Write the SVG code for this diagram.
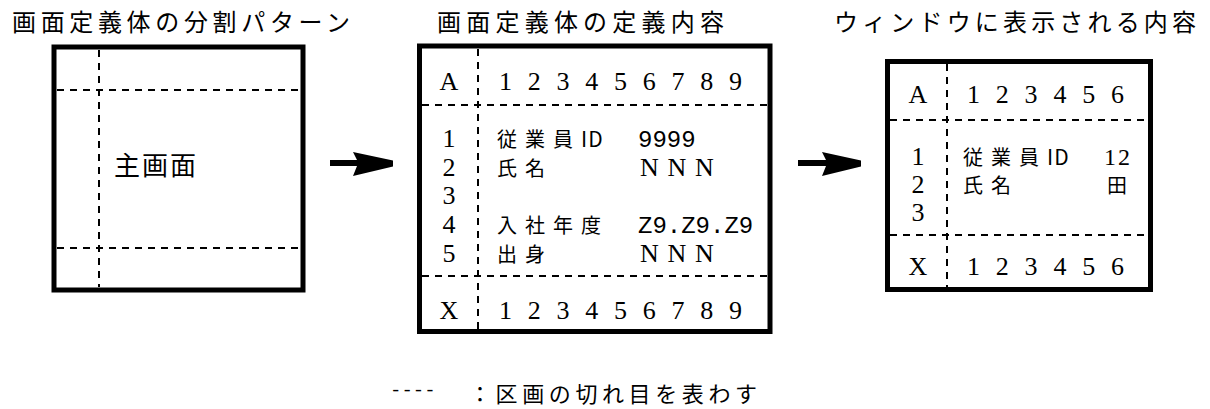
<svg xmlns="http://www.w3.org/2000/svg" width="1210" height="409" viewBox="0 0 1210 409">
<style>
.box{fill:#fff;stroke:#000;stroke-width:5}
.dash{fill:none;stroke:#000;stroke-width:2;stroke-dasharray:7 6}
.title{font-family:"Noto Sans CJK JP",sans-serif;font-size:24px;fill:#000}
.jp{font-family:"Noto Sans CJK JP",sans-serif;font-size:20px;letter-spacing:8px;fill:#000}
.mono{font-family:"Liberation Mono",monospace;font-size:24px;letter-spacing:0;fill:#000}
.ser{font-family:"Liberation Serif",serif;font-size:26px;fill:#000}
.mid{text-anchor:middle}
.nnn{font-family:"Liberation Serif",serif;font-size:26px;letter-spacing:8.7px;fill:#000}
.arrow{fill:#000;stroke:none}
</style>
<rect width="1210" height="409" fill="#fff"/>
<g id="node1">
<text class="title" x="12" y="31" textLength="338" lengthAdjust="spacing">画面定義体の分割パターン</text>
<rect class="box" x="54" y="47" width="249" height="243"/>
<line class="dash" x1="99" y1="50" x2="99" y2="287"/>
<line class="dash" x1="57" y1="90" x2="300" y2="90"/>
<line class="dash" x1="57" y1="248" x2="300" y2="248"/>
<text x="114" y="175" style="font-family:'Noto Sans CJK JP',sans-serif;font-size:26px;letter-spacing:2px">主画面</text>
</g>
<g id="node2">
<text class="title" x="437" y="31" textLength="287" lengthAdjust="spacing">画面定義体の定義内容</text>
<rect class="box" x="419.5" y="46" width="350.5" height="285.5"/>
<line class="dash" x1="478" y1="49" x2="478" y2="329"/>
<line class="dash" x1="422" y1="105" x2="767" y2="105"/>
<line class="dash" x1="422" y1="276" x2="767" y2="276"/>
<text class="ser mid" x="449" y="90">A</text>
<text class="ser" x="499" y="90" textLength="243" lengthAdjust="spacing">1 2 3 4 5 6 7 8 9</text>
<text class="ser mid" x="449" y="147">1</text>
<text class="ser mid" x="449" y="175.5">2</text>
<text class="ser mid" x="449" y="204">3</text>
<text class="ser mid" x="449" y="233">4</text>
<text class="ser mid" x="449" y="261.5">5</text>
<text class="jp" x="497" y="147">従業員<tspan style="letter-spacing:1px;font-size:21px">ID</tspan></text>
<text class="mono" x="638" y="147">9999</text>
<text class="jp" x="497" y="175.5">氏名</text>
<text class="nnn" x="640" y="175.5">NNN</text>
<text class="jp" x="497" y="233">入社年度</text>
<text class="mono" x="638" y="233">Z9.Z9.Z9</text>
<text class="jp" x="497" y="261.5">出身</text>
<text class="nnn" x="640" y="261.5">NNN</text>
<text class="ser mid" x="449" y="319">X</text>
<text class="ser" x="499" y="319" textLength="243" lengthAdjust="spacing">1 2 3 4 5 6 7 8 9</text>
</g>
<g id="node3">
<text class="title" x="834" y="31" textLength="362" lengthAdjust="spacing">ウィンドウに表示される内容</text>
<rect class="box" x="887.5" y="61.5" width="263" height="228"/>
<line class="dash" x1="947" y1="64" x2="947" y2="287"/>
<line class="dash" x1="890" y1="120" x2="1148" y2="120"/>
<line class="dash" x1="890" y1="235" x2="1148" y2="235"/>
<text class="ser mid" x="918" y="103">A</text>
<text class="ser" x="967" y="103" textLength="157" lengthAdjust="spacing">1 2 3 4 5 6</text>
<text class="ser mid" x="918" y="165">1</text>
<text class="ser mid" x="918" y="193">2</text>
<text class="ser mid" x="918" y="221">3</text>
<text class="jp" x="963" y="165">従業員<tspan style="letter-spacing:1px;font-size:21px">ID</tspan></text>
<text x="1104" y="165" style="font-family:'Liberation Serif',serif;font-size:24px;letter-spacing:2px">12</text>
<text class="jp" x="963" y="193">氏名</text>
<text class="jp" x="1107" y="193">田</text>
<text class="ser mid" x="918" y="275">X</text>
<text class="ser" x="967" y="275" textLength="157" lengthAdjust="spacing">1 2 3 4 5 6</text>
</g>
<g id="connectors">
<path class="arrow" d="M330,160 L357,160 L353,152 L393,160.5 L393,166.5 L353,176 L357,166 L330,166 Z"/>
<path class="arrow" d="M798,160 L826,160 L822,152 L861,160.5 L861,166.5 L822,176 L826,166 L798,166 Z"/>
</g>
<g id="legend">
<text x="390" y="396" style="font-family:'Liberation Mono',monospace;font-size:19px">----</text>
<text x="469" y="402" style="font-family:'Noto Sans CJK JP',sans-serif;font-size:22px" textLength="288" lengthAdjust="spacing">：区画の切れ目を表わす</text>
</g>
</svg>
